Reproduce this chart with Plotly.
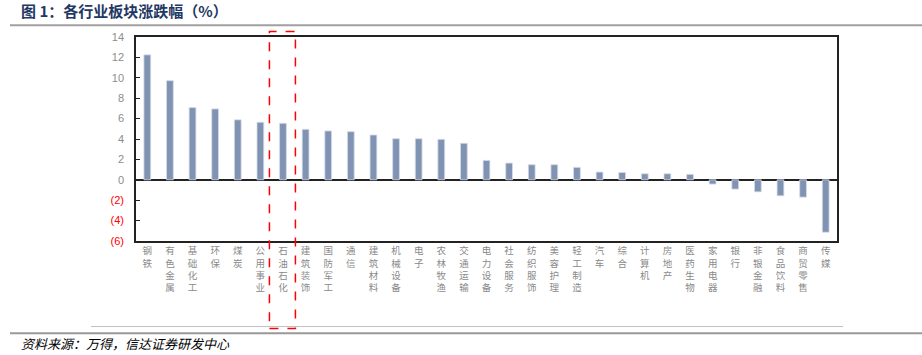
import plotly.graph_objects as go

categories = ["钢铁", "有色金属", "基础化工", "环保", "煤炭", "公用事业", "石油石化", "建筑装饰",
              "国防军工", "通信", "建筑材料", "机械设备", "电子", "农林牧渔", "交通运输", "电力设备",
              "社会服务", "纺织服饰", "美容护理", "轻工制造", "汽车", "综合", "计算机", "房地产",
              "医药生物", "家用电器", "银行", "非银金融", "食品饮料", "商贸零售", "传媒"]
values = [12.25, 9.72, 7.08, 6.95, 5.88, 5.64, 5.54, 4.95,
          4.79, 4.72, 4.39, 4.03, 4.03, 3.97, 3.58, 1.90,
          1.64, 1.48, 1.48, 1.22, 0.76, 0.72, 0.59, 0.59,
          0.53, -0.42, -0.91, -1.18, -1.57, -1.70, -5.14]
ytick_vals = [-6, -4, -2, 0, 2, 4, 6, 8, 10, 12, 14]
ytick_text = ["(6)", "(4)", "(2)", "0", "2", "4", "6", "8", "10", "12", "14"]
highlight = "石油石化"

title_text = "图 1：各行业板块涨跌幅（%）"
source_text = "资料来源：万得，信达证券研发中心"

W, H = 922, 355
L, R, T, B = 136, 837, 37.3, 240.7

def px(x):
    return (x - L) / (R - L)

def py(y):
    return (B - y) / (B - T)

ytt = [f"<span style='color:#FF0000'>{t}</span>" if v < 0 else t for v, t in zip(ytick_vals, ytick_text)]
xtt = ["<br>".join(list(c)) for c in categories]

fig = go.Figure(go.Bar(
    x=categories, y=values,
    marker=dict(color="#8193B2", line=dict(color="#D5DCE8", width=0.8)),
    width=0.3,
))

hi = categories.index(highlight)

fig.update_layout(
    width=W, height=H,
    margin=dict(l=L, r=W - R, t=T, b=H - B, pad=0),
    paper_bgcolor="white", plot_bgcolor="white",
    showlegend=False,
    font=dict(family="Noto Sans CJK SC", color="#7F7F7F"),
    xaxis=dict(
        type="category",
        tickmode="array", tickvals=categories, ticktext=xtt,
        range=[-0.5, len(categories) - 0.5],
        showline=True, linecolor="#222222", linewidth=1.5, mirror=True,
        ticks="", showgrid=False, zeroline=False,
        tickfont=dict(size=9.5, color="#8A8A8A", family="Noto Sans CJK SC"),
        tickangle=0,
    ),
    yaxis=dict(
        range=[-6, 14],
        tickmode="array", tickvals=ytick_vals, ticktext=ytt,
        showline=True, linecolor="#222222", linewidth=1.5, mirror=True,
        ticks="inside", ticklen=4, tickcolor="#222222", tickwidth=1.2,
        showgrid=False,
        zeroline=True, zerolinecolor="#222222", zerolinewidth=1.5,
        tickfont=dict(size=11, color="#8C8C8C", family="Liberation Sans"),
        ticklabelstandoff=8,
    ),
    shapes=[
        dict(type="line", xref="paper", yref="paper", x0=px(10), x1=px(922),
             y0=py(25.7), y1=py(25.7), line=dict(color="#A0A0A0", width=2)),
        dict(type="line", xref="paper", yref="paper", x0=px(91), x1=px(843),
             y0=py(326), y1=py(326), line=dict(color="#C0C0C0", width=1)),
        dict(type="line", xref="paper", yref="paper", x0=px(10), x1=px(922),
             y0=py(332.7), y1=py(332.7), line=dict(color="#999999", width=2)),
        dict(type="rect", xref="x", yref="paper", x0=hi - 0.6, x1=hi + 0.55,
             y0=py(328), y1=py(31.7), line=dict(color="#FF0000", width=1.5, dash="dash")),
    ],
    annotations=[
        dict(text=f"<b>{title_text}</b>", xref="paper", yref="paper", x=px(19), y=py(11),
             xanchor="left", yanchor="middle", showarrow=False,
             font=dict(size=15, color="#1F3864", family="Noto Sans CJK SC")),
        dict(text=source_text, xref="paper", yref="paper", x=px(19), y=py(343),
             xanchor="left", yanchor="middle", showarrow=False,
             font=dict(size=13, color="#000000", family="Noto Sans CJK SC", style="italic")),
    ],
)

fig.write_html("out.html")
